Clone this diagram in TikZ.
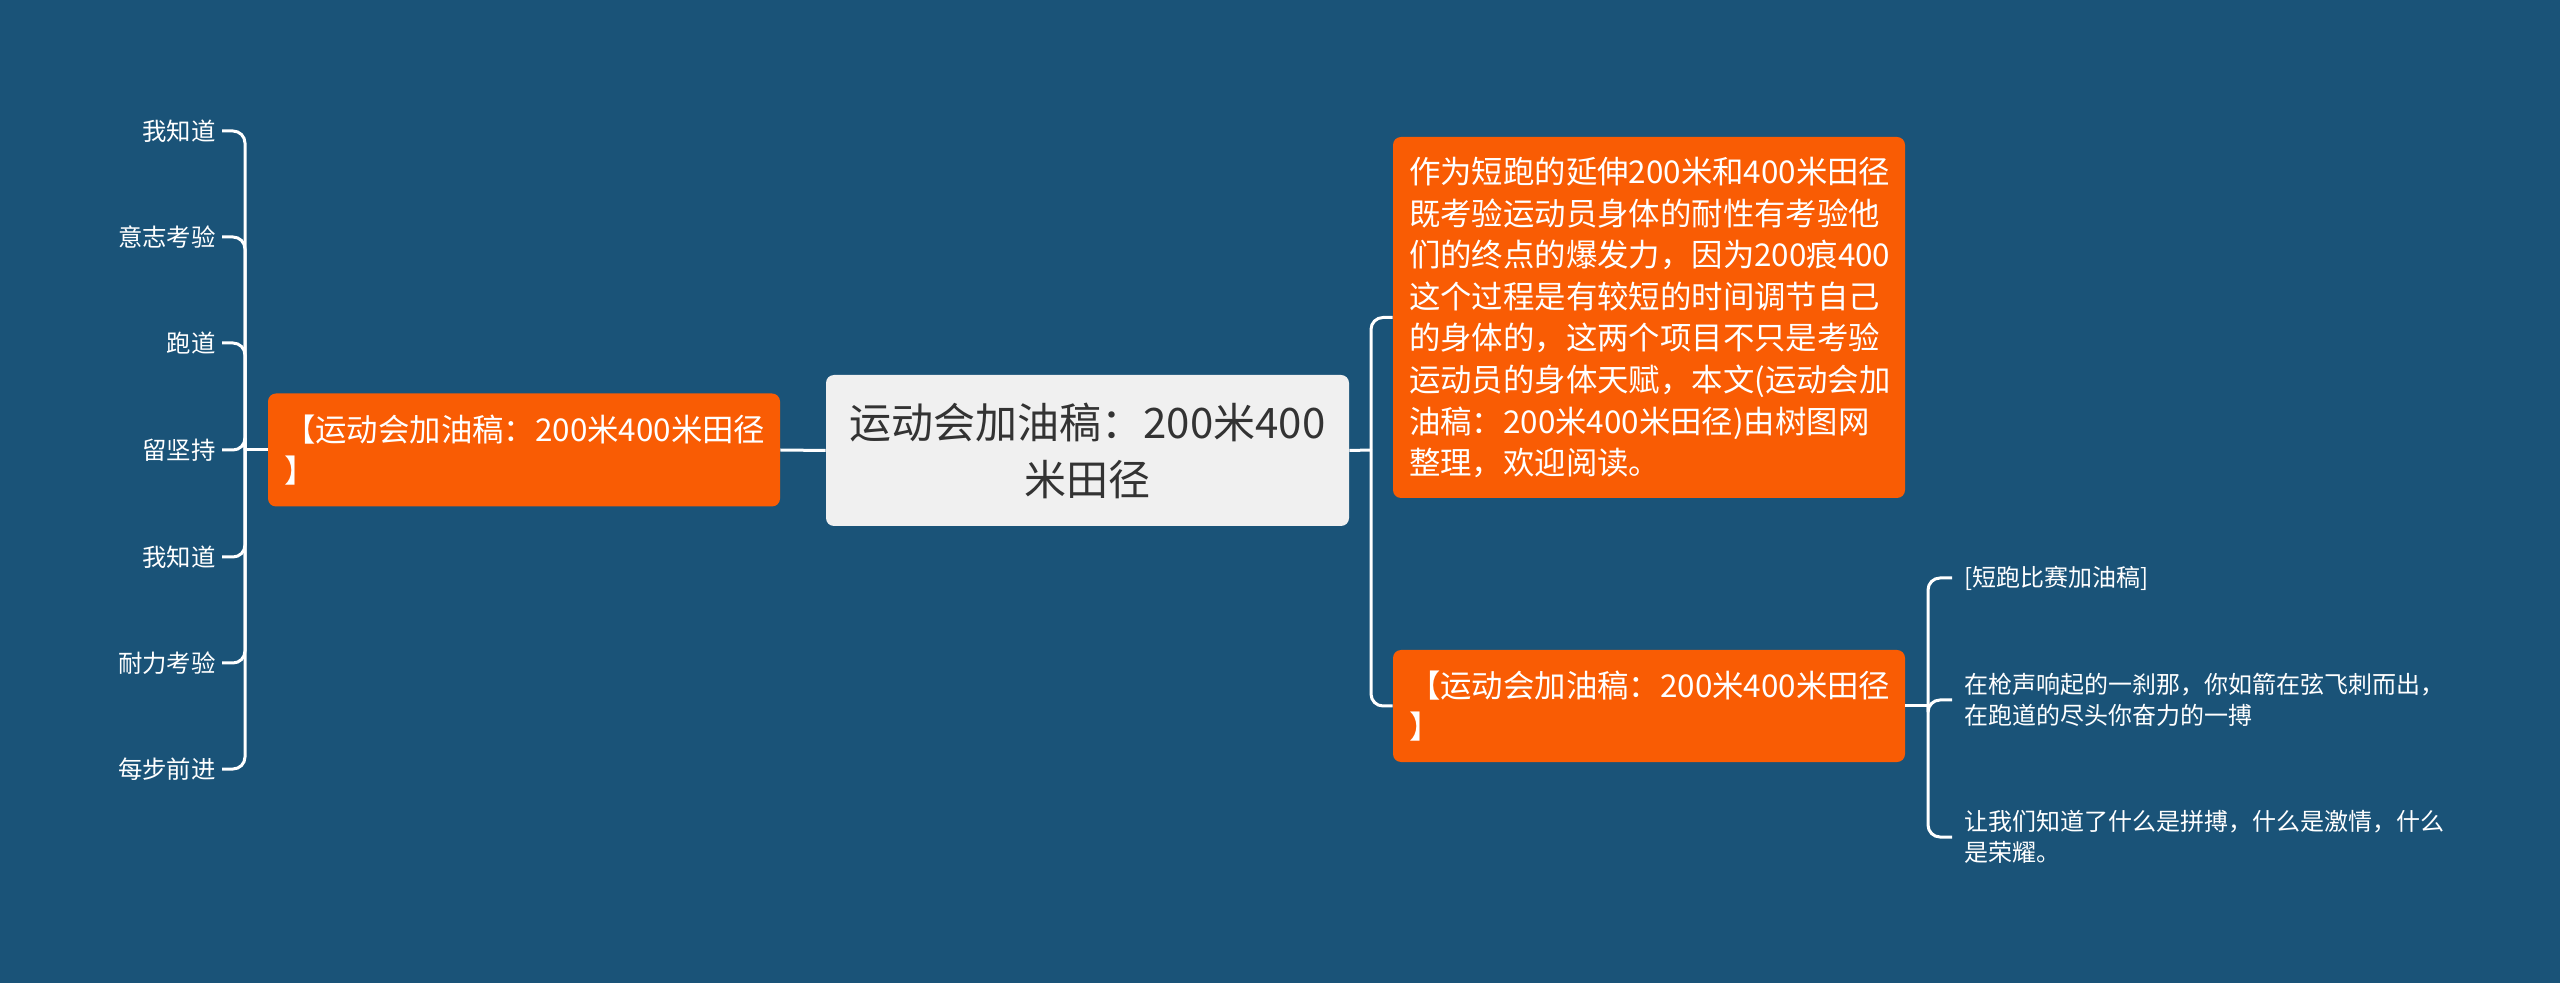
\documentclass[tikz,border=0pt]{standalone}
\usepackage{fontspec}
\setmainfont{Noto Sans CJK SC}
\definecolor{bgblue}{RGB}{26,83,120}
\definecolor{orangefill}{RGB}{249,92,4}
\definecolor{centerfill}{RGB}{240,240,240}
\definecolor{centertext}{RGB}{51,51,51}
\tikzset{
  conn/.style={draw=white, line width=1.5pt, rounded corners=6pt},
  centerbox/.style={fill=centerfill, rounded corners=4pt, text=centertext, align=center,
    minimum width=261.5pt, minimum height=75.5pt, inner sep=0pt,
    font=\fontsize{21pt}{28.5pt}\selectfont},
  orangebox/.style={fill=orangefill, rounded corners=4pt, text=white, align=left,
    text width=240pt, inner xsep=8pt, inner ysep=0pt, minimum width=256pt,
    font=\fontsize{15.7pt}{20.8pt}\selectfont},
  leafleft/.style={text=white, inner xsep=3pt, inner ysep=2pt, anchor=east,
    font=\fontsize{12.2pt}{15.5pt}\selectfont},
  leafright/.style={text=white, inner xsep=6pt, inner ysep=2pt, anchor=west, align=left,
    font=\fontsize{12pt}{15.5pt}\selectfont},
}
\begin{document}
\begin{tikzpicture}[x=0.5pt,y=-0.5pt]
\useasboundingbox (0,0) rectangle (2560,983);
\fill[bgblue] (0,0) rectangle (2560,983);

% central
\node[centerbox] (center) at (1087.5,450.5) {运动会加油稿：200米400\\米田径};

% left branch
\node[orangebox, minimum height=56.5pt] (left) at (524,450) {【运动会加油稿：200米400米田径\\】};

\node[leafleft] (l1) at (222,131) {我知道};
\node[leafleft] (l2) at (222,237) {意志考验};
\node[leafleft] (l3) at (222,343) {跑道};
\node[leafleft] (l4) at (222,450) {留坚持};
\node[leafleft] (l5) at (222,557) {我知道};
\node[leafleft] (l6) at (222,663) {耐力考验};
\node[leafleft] (l7) at (222,769) {每步前进};

\coordinate (lj) at (245,450);
\draw[conn] (left.west) -- (lj);
\foreach \n in {l1,l2,l3,l4,l5,l6,l7}{
  \draw[conn] (lj) |- (\n.east);
}
\draw[conn] (left.east) -- (center.west);

% right branch
\node[orangebox, minimum height=180.5pt] (rt) at (1649,317.5) {作为短跑的延伸200米和400米田径\\既考验运动员身体的耐性有考验他\\们的终点的爆发力，因为200痕400\\这个过程是有较短的时间调节自己\\的身体的，这两个项目不只是考验\\运动员的身体天赋，本文(运动会加\\油稿：200米400米田径)由树图网\\整理，欢迎阅读。};
\node[orangebox, minimum height=56pt] (rb) at (1649,706) {【运动会加油稿：200米400米田径\\】};

\coordinate (rj) at (1371,450);
\draw[conn] (center.east) -- (rj);
\draw[conn] (rj) |- (rt.west);
\draw[conn] (rj) |- (rb.west);

% sub leaves
\node[leafright] (s1) at (1952,578) {[短跑比赛加油稿]};
\node[leafright] (s2) at (1952,700) {在枪声响起的一刹那，你如箭在弦飞刺而出，\\在跑道的尽头你奋力的一搏};
\node[leafright] (s3) at (1952,837) {让我们知道了什么是拼搏，什么是激情，什么\\是荣耀。};

\coordinate (sj) at (1928,706);
\draw[conn] (rb.east) -- (sj);
\foreach \n in {s1,s2,s3}{
  \draw[conn] (sj) |- (\n.west);
}
\end{tikzpicture}
\end{document}
